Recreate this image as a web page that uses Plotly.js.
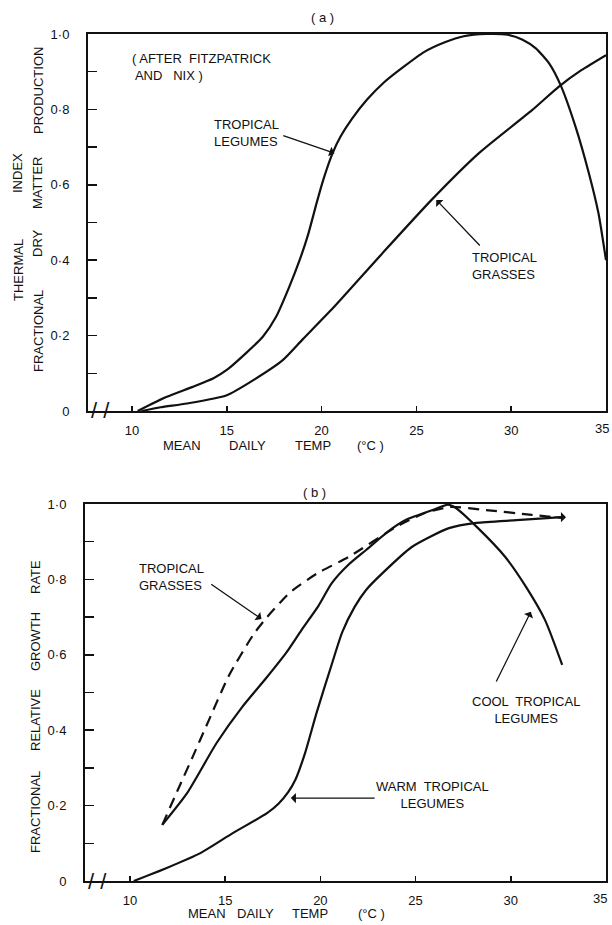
<!DOCTYPE html>
<html><head><meta charset="utf-8">
<script src="https://cdn.plot.ly/plotly-3.0.1.min.js"></script>
<style>body{margin:0;background:#fff}#chart{width:612px;height:925px}</style>
</head><body><div id="chart"></div>
<script>
// ---- Panel (a): thermal index (after Fitzpatrick and Nix) ----
const aLegumesX = [10.3, 11.8, 13.2, 14.3, 15.0, 16.0, 16.9, 17.6, 18.3, 18.84, 19.3, 19.74, 20.1, 20.58, 21.0, 21.6, 22.4, 23.3, 24.3, 25.4, 26.5, 27.5, 28.7, 29.8, 30.6, 31.3, 32.0, 32.6, 33.4, 34.1, 34.6, 35.0];
const aLegumesY = [0, 0.037, 0.064, 0.087, 0.109, 0.153, 0.197, 0.25, 0.33, 0.40, 0.47, 0.552, 0.615, 0.684, 0.728, 0.775, 0.826, 0.872, 0.912, 0.952, 0.978, 0.994, 1.0, 0.998, 0.985, 0.962, 0.922, 0.865, 0.753, 0.63, 0.525, 0.40];
const aGrassesX = [10.5, 11.5, 12.9, 15.0, 16.4, 17.95, 19.0, 20.6, 23.2, 25.8, 28.3, 31.1, 32.5, 33.7, 35.0];
const aGrassesY = [0, 0.01, 0.02, 0.042, 0.082, 0.135, 0.19, 0.273, 0.418, 0.56, 0.684, 0.798, 0.86, 0.904, 0.944];

// ---- Panel (b): fractional relative growth rate ----
const bGrassesX = [11.7, 12.5, 13.3, 14.0, 15.2, 16.5, 17.2, 18.4, 19.8, 21.5, 24.0, 25.5, 26.8, 28.7, 31.1, 32.7];
const bGrassesY = [0.149, 0.24, 0.33, 0.41, 0.545, 0.655, 0.70, 0.765, 0.815, 0.86, 0.94, 0.976, 0.992, 0.984, 0.971, 0.963];
const bCoolX = [11.7, 13.0, 14.55, 15.9, 17.2, 18.2, 19.0, 19.9, 20.6, 21.5, 22.4, 23.5, 24.5, 25.9, 26.7, 27.1, 28.2, 29.7, 30.8, 31.8, 32.7];
const bCoolY = [0.149, 0.233, 0.366, 0.462, 0.541, 0.605, 0.665, 0.73, 0.79, 0.84, 0.878, 0.925, 0.958, 0.984, 0.998, 0.99, 0.94, 0.86, 0.78, 0.692, 0.573];
const bWarmX = [10.2, 11.9, 13.7, 15.4, 17.2, 17.8, 18.3, 18.7, 19.2, 19.8, 20.6, 21.15, 21.8, 22.4, 23.25, 24.8, 26.75, 28.2, 30.3, 32.7];
const bWarmY = [0, 0.034, 0.074, 0.127, 0.18, 0.205, 0.235, 0.27, 0.34, 0.446, 0.575, 0.66, 0.727, 0.772, 0.816, 0.886, 0.936, 0.95, 0.957, 0.965];

// ---- ticks ----
const xTickVals = [10, 15, 20, 25, 30, 35];
const xTickText = ['10', '15', '20', '25', '30', ''];
const xEdgeLabel = '35';
const yTickVals = [0, 0.2, 0.4, 0.6, 0.8, 1.0];
const yTickText = ['0', '0·2', '0·4', '0·6', '0·8', '1·0'];

const W = 612, H = 925;
const px = v => v / W;
const py = v => 1 - v / H;
const FONT = 'Liberation Sans, Arial, sans-serif';
const ink = '#111';

const line = {color: ink, width: 2.2, shape: 'spline', smoothing: 0.6};
const traces = [
  {x: aLegumesX, y: aLegumesY, xaxis: 'x', yaxis: 'y', mode: 'lines', line: line, name: 'Tropical legumes'},
  {x: aGrassesX, y: aGrassesY, xaxis: 'x', yaxis: 'y', mode: 'lines', line: line, name: 'Tropical grasses'},
  {x: bGrassesX, y: bGrassesY, xaxis: 'x2', yaxis: 'y2', mode: 'lines', line: Object.assign({}, line, {dash: '11px,7px'}), name: 'Tropical grasses'},
  {x: bCoolX, y: bCoolY, xaxis: 'x2', yaxis: 'y2', mode: 'lines', line: line, name: 'Cool tropical legumes'},
  {x: bWarmX, y: bWarmY, xaxis: 'x2', yaxis: 'y2', mode: 'lines', line: line, name: 'Warm tropical legumes'}
];

function xAx(dom, rng, anchor) {
  return {domain: dom, range: rng, anchor: anchor, tickvals: xTickVals, ticktext: xTickText,
    ticks: 'inside', ticklen: 5, tickwidth: 1.5, tickcolor: ink, showline: true, linewidth: 2, linecolor: ink,
    mirror: true, showgrid: false, zeroline: false, ticklabelstandoff: 6,
    tickfont: {family: FONT, size: 13, color: ink}};
}
function yAx(dom, anchor) {
  return {domain: dom, range: [0, 1], anchor: anchor, tickvals: yTickVals, ticktext: yTickText,
    ticks: 'inside', ticklen: 9, tickwidth: 1.5, tickcolor: ink, showline: true, linewidth: 2, linecolor: ink,
    mirror: true, showgrid: false, zeroline: false, ticklabelstandoff: 14,
    minor: {tickvals: [0.1, 0.3, 0.5, 0.7, 0.9], ticks: 'inside', ticklen: 9, tickwidth: 1.5, tickcolor: ink},
    tickfont: {family: FONT, size: 13, color: ink}};
}

const tf = {family: FONT, size: 13, color: ink};
function txt(text, x, y, opts) {
  return Object.assign({text: text, x: px(x), y: py(y), xref: 'paper', yref: 'paper', showarrow: false,
    font: tf, xanchor: 'center', yanchor: 'middle'}, opts || {});
}
function rot(text, x, y) { return txt(text, x, y, {textangle: -90}); }
function arrow(xr, yr, hx, hy, tx, ty) {
  return {x: hx, y: hy, ax: tx, ay: ty, xref: xr, yref: yr, axref: xr, ayref: yr, text: '',
    showarrow: true, arrowhead: 1, arrowsize: 1.3, arrowwidth: 1.3, arrowcolor: ink, standoff: 0};
}

const annotations = [
  txt('( a )', 322, 17),
  txt('( b )', 315, 492),
  // panel a texts
  txt('( AFTER  FITZPATRICK<br> AND   NIX )', 130, 67, {xanchor: 'left', align: 'left'}),
  txt('TROPICAL<br>LEGUMES', 212, 133, {xanchor: 'left', align: 'left'}),
  txt('TROPICAL<br>GRASSES', 470, 266, {xanchor: 'left', align: 'left'}),
  arrow('x', 'y', 20.68, 0.684, 17.9, 0.732),
  arrow('x', 'y', 26.05, 0.56, 28.42, 0.435),
  // panel b texts
  txt('TROPICAL<br>GRASSES', 137, 577, {xanchor: 'left', align: 'left'}),
  txt('COOL  TROPICAL<br>LEGUMES', 526, 710, {align: 'center'}),
  txt('WARM  TROPICAL<br>LEGUMES', 432, 795, {align: 'center'}),
  arrow('x2', 'y2', 16.91, 0.695, 14.19, 0.79),
  arrow('x2', 'y2', 31.05, 0.714, 29.2, 0.525),
  arrow('x2', 'y2', 18.45, 0.22, 22.93, 0.22),
  arrow('x2', 'y2', 32.9, 0.965, 32.2, 0.965),
  // edge tick labels
  {x: 35, y: 0, xref: 'x', yref: 'y', text: xEdgeLabel, showarrow: false, font: tf, xanchor: 'right', yanchor: 'top', yshift: -8, xshift: 5},
  {x: 35, y: 0, xref: 'x2', yref: 'y2', text: xEdgeLabel, showarrow: false, font: tf, xanchor: 'right', yanchor: 'top', yshift: -8, xshift: 3},
  // x titles
  txt('MEAN', 182, 445), txt('DAILY', 247, 445), txt('TEMP', 313, 445), txt('(°C )', 370, 445),
  txt('MEAN', 207, 913), txt('DAILY', 255, 913), txt('TEMP', 310, 913), txt('(°C )', 372, 913),
  // y titles a
  rot('THERMAL', 18, 270), rot('INDEX', 18, 173),
  rot('FRACTIONAL', 38, 331), rot('DRY', 38, 243), rot('MATTER', 38, 183), rot('PRODUCTION', 38, 91),
  // y title b
  rot('FRACTIONAL', 35, 812), rot('RELATIVE', 35, 720), rot('GROWTH', 35, 642), rot('RATE', 35, 577),
  // axis breaks
  {x: 8.35, y: 0, xref: 'x', yref: 'y', text: '/ /', showarrow: false, font: {family: FONT, size: 22, color: ink}, yanchor: 'middle'},
  {x: 8.3, y: 0, xref: 'x2', yref: 'y2', text: '/ /', showarrow: false, font: {family: FONT, size: 22, color: ink}, yanchor: 'middle'}
];

const layout = {
  width: W, height: H, margin: {l: 0, r: 0, t: 0, b: 0},
  paper_bgcolor: '#fff', plot_bgcolor: '#fff', showlegend: false,
  xaxis: xAx([px(88), px(606)], [7.68, 35], 'y'),
  yaxis: yAx([py(411), py(34)], 'x'),
  xaxis2: xAx([px(85), px(606)], [7.64, 35], 'y2'),
  yaxis2: yAx([py(881), py(504)], 'x2'),
  annotations: annotations
};

Plotly.newPlot('chart', traces, layout, {staticPlot: true});
</script>
</body></html>
